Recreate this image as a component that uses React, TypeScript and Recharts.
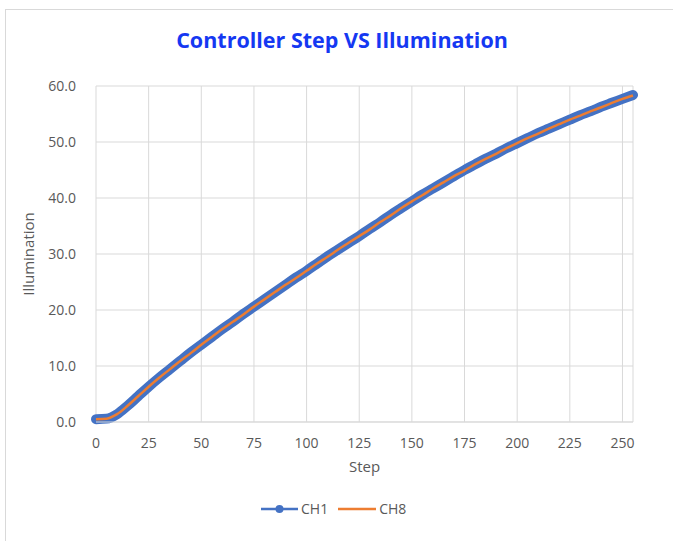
import React from 'react'
import { LineChart, Line, XAxis, YAxis, CartesianGrid, Legend } from 'recharts'

const steps = [
  0, 5, 10, 15, 20, 25, 30, 35, 40, 45, 50, 55, 60, 65, 70, 75, 80, 85, 90, 95,
  100, 105, 110, 115, 120, 125, 130, 135, 140, 145, 150, 155, 160, 165, 170, 175,
  180, 185, 190, 195, 200, 205, 210, 215, 220, 225, 230, 235, 240, 245, 250, 255,
]

const ch1 = [
  0.5, 0.6, 1.4, 2.9, 4.6, 6.3, 7.9, 9.4, 10.9, 12.4, 13.8, 15.2, 16.6, 17.9, 19.3, 20.6, 21.9, 23.2, 24.5, 25.8,
  27.0, 28.3, 29.6, 30.8, 32.0, 33.2, 34.5, 35.7, 37.0, 38.2, 39.4, 40.6, 41.7, 42.8, 43.9, 45.0,
  46.0, 47.0, 47.9, 48.9, 49.8, 50.7, 51.6, 52.4, 53.2, 54.0, 54.8, 55.5, 56.3, 57.0, 57.7, 58.4,
]

const ch8 = [
  0.5, 0.6, 1.4, 2.9, 4.6, 6.3, 7.9, 9.4, 10.9, 12.3, 13.8, 15.2, 16.6, 17.9, 19.2, 20.6, 21.9, 23.2, 24.5, 25.7,
  27.0, 28.3, 29.5, 30.8, 32.0, 33.2, 34.4, 35.7, 36.9, 38.2, 39.4, 40.5, 41.7, 42.8, 43.9, 44.9,
  46.0, 47.0, 47.9, 48.9, 49.8, 50.7, 51.5, 52.4, 53.2, 54.0, 54.7, 55.5, 56.2, 57.0, 57.7, 58.3,
]

const xTicks = [0, 25, 50, 75, 100, 125, 150, 175, 200, 225, 250]
const yTicks = [0, 10, 20, 30, 40, 50, 60]

const BLUE = '#4472C4'
const ORANGE = '#ED7D31'
const GRID = '#d9d9d9'
const TEXT = '#595959'
const FONT = '"Open Sans", sans-serif'

const data = steps.map((s, i) => ({ step: s, ch1: ch1[i], ch8: ch8[i] }))

const tickStyle = { fill: TEXT, fontSize: 14, fontFamily: FONT }

function LegendContent() {
  return (
    <div style={{ display: 'flex', alignItems: 'center', fontFamily: FONT, fontSize: 14, color: TEXT }}>
      <svg width={37} height={12}>
        <line x1={0} y1={6} x2={37} y2={6} stroke={BLUE} strokeWidth={2.5} />
        <circle cx={18.5} cy={6} r={4} fill={BLUE} />
      </svg>
      <span style={{ marginLeft: 3, marginRight: 10 }}>CH1</span>
      <svg width={38} height={12}>
        <line x1={0} y1={6} x2={38} y2={6} stroke={ORANGE} strokeWidth={2.5} />
      </svg>
      <span style={{ marginLeft: 3 }}>CH8</span>
    </div>
  )
}

export default function App() {
  return (
    <div style={{ position: 'absolute', left: 0, top: 0, width: 673, height: 541, background: '#fff', overflow: 'hidden' }}>
      {/* frame of the original chart object, cropped at right/bottom */}
      <div style={{ position: 'absolute', left: 5, top: 9, right: -2, bottom: -2, borderLeft: `1px solid ${GRID}`, borderTop: `1px solid ${GRID}` }} />

      <div style={{
        position: 'absolute', left: 0, top: 25, width: 684, textAlign: 'center',
        fontFamily: FONT, fontWeight: 700, fontSize: 21.5, color: '#1538F2',
      }}>
        Controller Step VS Illumination
      </div>

      <div style={{ position: 'absolute', left: 0, top: 0 }}>
        <LineChart width={673} height={541} data={data} margin={{ top: 86, right: 40, bottom: 59, left: 20 }}>
          <CartesianGrid stroke={GRID} />
          <XAxis
            type="number"
            dataKey="step"
            domain={[0, 255]}
            ticks={xTicks}
            tick={tickStyle}
            tickLine={false}
            tickSize={0}
            tickMargin={16}
            axisLine={{ stroke: GRID }}
            height={60}
            label={{ value: 'Step', position: 'insideBottom', offset: 10, fill: TEXT, fontSize: 15, fontFamily: FONT }}
          />
          <YAxis
            type="number"
            domain={[0, 60]}
            ticks={yTicks}
            tickFormatter={v => Number(v).toFixed(1)}
            tick={tickStyle}
            tickLine={false}
            tickSize={0}
            tickMargin={20}
            axisLine={false}
            width={76}
            label={{ value: 'Illumination', angle: -90, position: 'insideLeft', offset: 9, fill: TEXT, fontSize: 15, fontFamily: FONT, style: { textAnchor: 'middle' } }}
          />
          <Legend
            verticalAlign="middle"
            align="center"
            layout="horizontal"
            content={<LegendContent />}
            wrapperStyle={{ top: 499, left: 261, width: 'auto' }}
          />
          {/* CH1: dense Excel markers read as a thick round-capped band */}
          <Line
            type="monotone"
            dataKey="ch1"
            name="CH1"
            stroke={BLUE}
            strokeWidth={10}
            strokeLinecap="round"
            strokeLinejoin="round"
            dot={false}
            activeDot={false}
            isAnimationActive={false}
          />
          <Line
            type="monotone"
            dataKey="ch8"
            name="CH8"
            stroke={ORANGE}
            strokeWidth={2.5}
            dot={false}
            activeDot={false}
            isAnimationActive={false}
          />
        </LineChart>
      </div>
    </div>
  )
}
